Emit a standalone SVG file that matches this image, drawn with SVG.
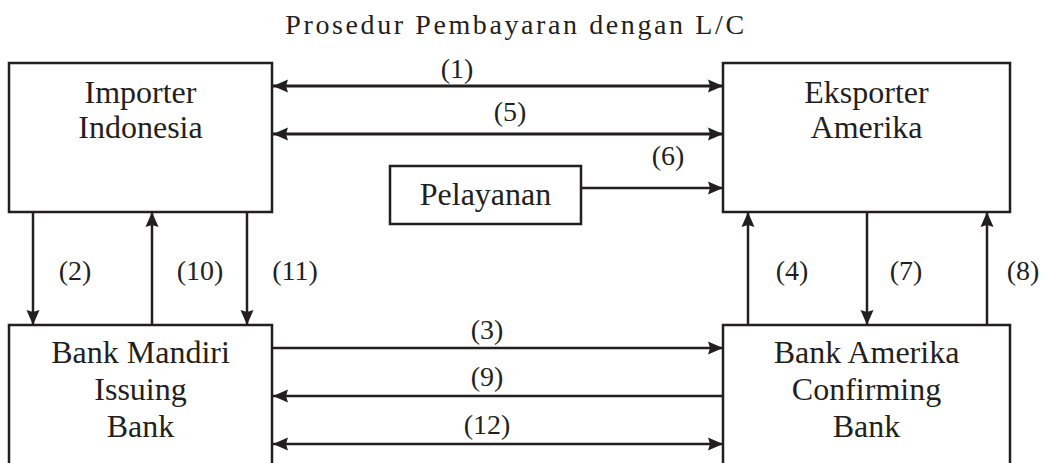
<svg xmlns="http://www.w3.org/2000/svg" width="1048" height="463" viewBox="0 0 1048 463">
<style>
  .box { fill: #fff; stroke: #231f20; stroke-width: 2.5; }
  .t { font-family: "Liberation Serif", "Times New Roman", serif; font-size: 32px; fill: #231f20; text-anchor: middle; }
  .lbl { font-family: "Liberation Serif", "Times New Roman", serif; font-size: 28px; fill: #231f20; text-anchor: middle; }
  .title { font-family: "Liberation Serif", "Times New Roman", serif; font-size: 28px; fill: #231f20; text-anchor: middle; letter-spacing: 2.6px; }
  .c { stroke: #231f20; stroke-width: 2.5; fill: none; }
  .thick { stroke-width: 3; }
</style>
<defs>
  <marker id="ah" markerUnits="userSpaceOnUse" markerWidth="16" markerHeight="14" refX="15" refY="7" orient="auto-start-reverse">
    <path d="M0,0.5 L15,7 L0,13.5 L2,7 z" fill="#231f20"/>
  </marker>
</defs>
<rect width="1048" height="463" fill="#fff"/>
<text class="title" x="516" y="34">Prosedur Pembayaran dengan L/C</text>

<g id="importer">
  <rect class="box" x="9" y="63" width="263" height="149"/>
  <text class="t" x="140.5" y="103">Importer</text>
  <text class="t" x="140.5" y="138">Indonesia</text>
</g>
<g id="eksporter">
  <rect class="box" x="723" y="63" width="287" height="149"/>
  <text class="t" x="866.5" y="103">Eksporter</text>
  <text class="t" x="866.5" y="138">Amerika</text>
</g>
<g id="pelayanan">
  <rect class="box" x="390" y="166" width="191" height="58"/>
  <text class="t" x="485.5" y="205">Pelayanan</text>
</g>
<g id="bank-mandiri">
  <rect class="box" x="9" y="325" width="263" height="160"/>
  <text class="t" x="140.5" y="363">Bank Mandiri</text>
  <text class="t" x="140.5" y="400">Issuing</text>
  <text class="t" x="140.5" y="437">Bank</text>
</g>
<g id="bank-amerika">
  <rect class="box" x="723" y="325" width="287" height="160"/>
  <text class="t" x="866.5" y="363">Bank Amerika</text>
  <text class="t" x="866.5" y="400">Confirming</text>
  <text class="t" x="866.5" y="437">Bank</text>
</g>

<g id="connectors">
  <line class="c thick" x1="273" y1="86" x2="723" y2="86" marker-start="url(#ah)" marker-end="url(#ah)"/>
  <line class="c thick" x1="273" y1="134" x2="723" y2="134" marker-start="url(#ah)" marker-end="url(#ah)"/>
  <line class="c" x1="581" y1="188" x2="723" y2="188" marker-end="url(#ah)"/>
  <line class="c" x1="33" y1="212" x2="33" y2="325" marker-end="url(#ah)"/>
  <line class="c" x1="152" y1="325" x2="152" y2="212" marker-end="url(#ah)"/>
  <line class="c" x1="247" y1="212" x2="247" y2="325" marker-end="url(#ah)"/>
  <line class="c" x1="748" y1="325" x2="748" y2="212" marker-end="url(#ah)"/>
  <line class="c" x1="867" y1="212" x2="867" y2="325" marker-end="url(#ah)"/>
  <line class="c" x1="987" y1="325" x2="987" y2="212" marker-end="url(#ah)"/>
  <line class="c" x1="272" y1="348" x2="723" y2="348" marker-end="url(#ah)"/>
  <line class="c" x1="723" y1="396" x2="273" y2="396" marker-end="url(#ah)"/>
  <line class="c" x1="273" y1="444" x2="723" y2="444" marker-start="url(#ah)" marker-end="url(#ah)"/>
  <text class="lbl" x="457" y="78">(1)</text>
  <text class="lbl" x="510" y="121">(5)</text>
  <text class="lbl" x="668" y="165">(6)</text>
  <text class="lbl" x="75" y="280">(2)</text>
  <text class="lbl" x="200" y="280">(10)</text>
  <text class="lbl" x="295" y="280">(11)</text>
  <text class="lbl" x="792" y="280">(4)</text>
  <text class="lbl" x="906" y="280">(7)</text>
  <text class="lbl" x="1023" y="280">(8)</text>
  <text class="lbl" x="487" y="339">(3)</text>
  <text class="lbl" x="487" y="386">(9)</text>
  <text class="lbl" x="487" y="434">(12)</text>
</g>
</svg>
